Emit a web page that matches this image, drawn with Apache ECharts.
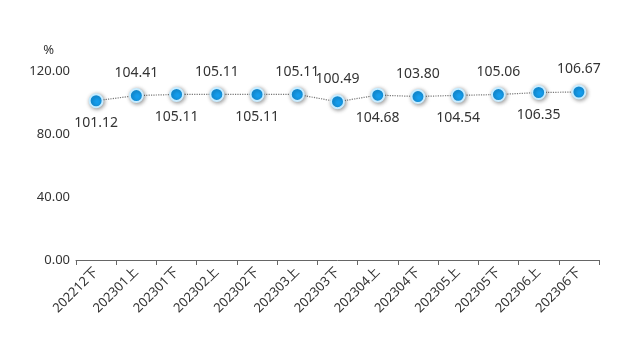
<!DOCTYPE html>
<html>
<head>
<meta charset="utf-8">
<script src="https://cdn.jsdelivr.net/npm/echarts@6/dist/echarts.min.js"></script>
<style>
html,body{margin:0;padding:0;background:#fff;}
#c{width:627px;height:340px;}
</style>
</head>
<body>
<div id="c"></div>
<script>
const categories = ['202212下','202301上','202301下','202302上','202302下','202303上','202303下','202304上','202304下','202305上','202305下','202306上','202306下'];
const values = [101.12,104.41,105.11,105.11,105.11,105.11,100.49,104.68,103.80,104.54,105.06,106.35,106.67];
const labelBelow = [true,false,true,false,true,false,false,true,false,true,false,true,false];
const yTicks = [0,40,80,120];

const FONT = '"Noto Sans", "Noto Sans CJK SC", sans-serif';
const chart = echarts.init(document.getElementById('c'));
chart.setOption({
  animation:false,
  backgroundColor:'#fff',
  grid:{left:76,right:28,top:71,bottom:80},
  xAxis:{
    type:'category',
    data:categories,
    boundaryGap:true,
    axisLine:{lineStyle:{color:'#666',width:1}},
    axisTick:{show:true,alignWithLabel:false,length:5,lineStyle:{color:'#666'}},
    axisLabel:{rotate:45,color:'#333',fontSize:13,fontFamily:FONT,interval:0,margin:10}
  },
  yAxis:{
    type:'value',
    min:yTicks[0],max:yTicks[yTicks.length-1],interval:40,
    name:'%',
    nameLocation:'end',
    nameGap:14,
    nameTextStyle:{color:'#333',fontSize:13,fontFamily:FONT,align:'right',padding:[0,22,0,0]},
    axisLine:{show:false},
    axisTick:{show:false},
    splitLine:{show:false},
    axisLabel:{color:'#333',fontSize:13,fontFamily:FONT,margin:6,formatter:v=>v.toFixed(2)}
  },
  series:[{
    type:'line',
    data:values.map((v,i)=>({value:v,label:{position:labelBelow[i]?'bottom':'top'}})),
    symbol:'circle',
    symbolSize:13,
    lineStyle:{color:'#777',width:1.2,type:'dotted'},
    itemStyle:{color:'#159ff0',borderColor:'#c8ecff',borderWidth:2,shadowColor:'rgba(0,0,0,0.4)',shadowBlur:4,shadowOffsetX:1,shadowOffsetY:1},
    label:{show:true,color:'#333',fontSize:14,fontFamily:FONT,distance:8,formatter:p=>p.value.toFixed(2)}
  }]
});
</script>
</body>
</html>
